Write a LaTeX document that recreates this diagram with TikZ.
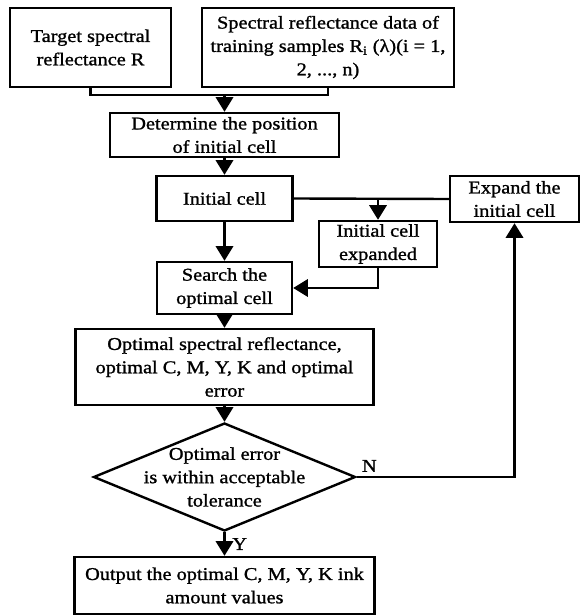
\documentclass[tikz,border=0pt]{standalone}
\usepackage{fontspec}
\setmainfont{Liberation Serif}[FakeStretch=1.13,FakeBold=1.2]
\usetikzlibrary{arrows.meta,shapes.geometric}
\begin{document}
\begin{tikzpicture}[x=0.75pt,y=-0.75pt,
  txt/.style={align=center, font=\fontsize{13.5}{17.5}\selectfont},
  box/.style={txt, draw, line width=1.8pt, inner sep=0pt},
  ln/.style={line width=1.8pt},
  arr/.style={line width=1.8pt, -{Triangle[width=13pt,length=11pt]}}]
\useasboundingbox (0,0) rectangle (581,616);
\node[box, minimum width=120.75pt, minimum height=59.25pt] (t1) at (90.5,47.5) {Target spectral\\reflectance R};
\node[box, minimum width=189pt, minimum height=59.25pt] (t2) at (328,47.5) {Spectral reflectance data of\\training samples R\textsubscript{i} (λ)(i = 1,\\2, ..., n)};
\node[box, minimum width=171.75pt, minimum height=33pt] (det) at (224.5,135) {Determine the position\\of initial cell};
\node[box, minimum width=102pt, minimum height=33.75pt] (init) at (224.5,198.5) {Initial cell};
\node[box, minimum width=96.75pt, minimum height=34.5pt] (exp) at (514.5,199) {Expand the\\initial cell};
\node[box, minimum width=88.5pt, minimum height=34.5pt] (icexp) at (378,244) {Initial cell\\expanded};
\node[box, minimum width=101.25pt, minimum height=39pt] (search) at (224.5,288) {Search the\\optimal cell};
\node[box, minimum width=223.5pt, minimum height=57pt] (opt) at (224.5,367) {Optimal spectral reflectance,\\optimal C, M, Y, K and optimal\\error};
\node[draw, diamond, line width=1.8pt, inner sep=0pt, minimum width=196.5pt, minimum height=81pt] (dia) at (224.5,477) {};
\node[txt] (diatext) at (dia.center) {Optimal error\\is within acceptable\\tolerance};
\node[box, minimum width=225pt, minimum height=42.75pt] (out) at (224.5,585.5) {Output the optimal C, M, Y, K ink\\amount values};
\coordinate (join) at (224.5,95);
\coordinate (br) at (icexp.north |- init.east);
\draw[ln] (t1.south) |- (join) -| (t2.south);
\draw[arr] (join) -- (det.north);
\draw[arr] (det) -- (init);
\draw[ln] (init.east) -- (exp.west);
\draw[arr] (br) -- (icexp.north);
\draw[arr] (init) -- (search);
\draw[arr] (icexp.south) |- (search.east);
\draw[arr] (search) -- (opt);
\draw[arr] (opt) -- (dia.north);
\draw[arr] (dia.east) -| node[txt, pos=0.04, above, inner sep=3pt] {N} (exp.south);
\draw[arr] (dia.south) -- node[txt, midway, right, inner sep=5pt] {Y} (out.north);
\end{tikzpicture}
\end{document}
